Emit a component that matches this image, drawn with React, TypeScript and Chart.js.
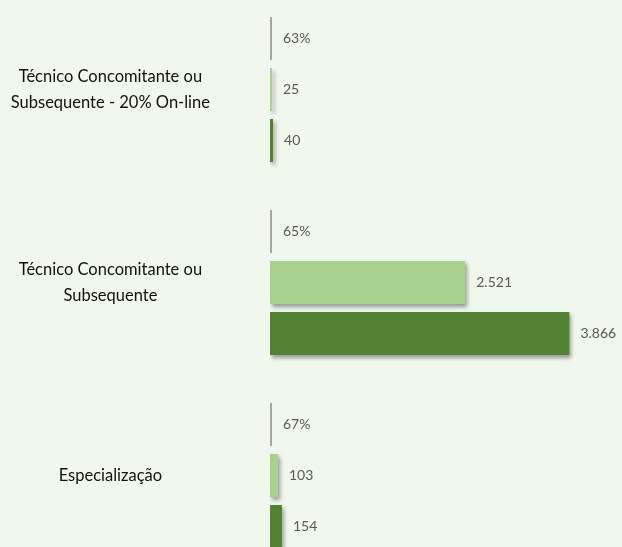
import { useEffect, useRef } from "react";
import { Chart, registerables } from "chart.js";

Chart.register(...registerables);

const categories: (string | string[])[] = [
  ["Técnico Concomitante ou", "Subsequente - 20% On-line"],
  ["Técnico Concomitante ou", "Subsequente"],
  "Especialização",
];
const percentValues = [0.63, 0.65, 0.67];
const seriesLight = [25, 2521, 103];
const seriesDark = [40, 3866, 154];

const fmtNum = (n: number) => String(n).replace(/\B(?=(\d{3})+(?!\d))/g, ".");
const fmtPct = (n: number) => Math.round(n * 100) + "%";

const shadowPlugin = {
  id: "barShadow",
  beforeDatasetDraw(chart: any, args: any) {
    const ds: any = chart.data.datasets[args.index];
    if (!ds.shadow) return;
    const ctx = chart.ctx;
    ctx.save();
    ctx.shadowColor = "rgba(0,0,0,0.38)";
    ctx.shadowBlur = 4;
    ctx.shadowOffsetX = 2;
    ctx.shadowOffsetY = 3;
  },
  afterDatasetDraw(chart: any, args: any) {
    const ds: any = chart.data.datasets[args.index];
    if (!ds.shadow) return;
    chart.ctx.restore();
  },
};

const labelPlugin = {
  id: "valueLabels",
  afterDatasetsDraw(chart: any) {
    const ctx = chart.ctx;
    ctx.save();
    ctx.font = "14px Lato";
    ctx.fillStyle = "#595959";
    ctx.textAlign = "left";
    ctx.textBaseline = "middle";
    chart.data.datasets.forEach((ds: any, i: number) => {
      const meta = chart.getDatasetMeta(i);
      meta.data.forEach((el: any, j: number) => {
        const v = ds.data[j] as number;
        const txt = ds.isPercent ? fmtPct(v) : fmtNum(v);
        ctx.fillText(txt, el.x + 11, el.y);
      });
    });
    ctx.restore();
  },
};

export default function App() {
  const ref = useRef<HTMLCanvasElement | null>(null);

  useEffect(() => {
    if (!ref.current) return;
    const chart = new Chart(ref.current, {
      type: "bar",
      data: {
        labels: categories as any,
        datasets: [
          {
            label: "%",
            data: percentValues,
            backgroundColor: "#A6A6A6",
            minBarLength: 2,
            isPercent: true,
          } as any,
          {
            label: "A",
            data: seriesLight,
            backgroundColor: "#A9D18E",
            shadow: true,
          } as any,
          {
            label: "B",
            data: seriesDark,
            backgroundColor: "#548235",
            shadow: true,
          } as any,
        ],
      },
      options: {
        indexAxis: "y",
        animation: false,
        responsive: true,
        maintainAspectRatio: false,
        devicePixelRatio: 1,
        datasets: {
          bar: { categoryPercentage: 0.7927, barPercentage: 0.843 },
        },
        layout: { padding: { left: 0, right: 19, top: 0, bottom: 0 } },
        plugins: {
          legend: { display: false },
          tooltip: { enabled: false },
        },
        scales: {
          x: { display: false, min: 0, max: 4300 },
          y: {
            grid: { display: false, drawTicks: false },
            border: { display: false },
            afterFit: (scale: any) => {
              scale.width = 270;
              scale.paddingTop = 0;
              scale.paddingBottom = 0;
            },
            ticks: {
              autoSkip: false,
              crossAlign: "center",
              padding: 60,
              color: "#111111",
              font: { family: "Lato", size: 16.5, lineHeight: 1.6 },
            },
          },
        },
      },
      plugins: [shadowPlugin, labelPlugin],
    });
    return () => chart.destroy();
  }, []);

  return (
    <div
      style={{
        position: "fixed",
        left: 0,
        top: 0,
        width: 622,
        height: 547,
        overflow: "hidden",
        background: "#F0F7EC",
      }}
    >
      <div style={{ position: "absolute", left: 0, top: -7, width: 622, height: 579 }}>
        <canvas ref={ref} />
      </div>
    </div>
  );
}
